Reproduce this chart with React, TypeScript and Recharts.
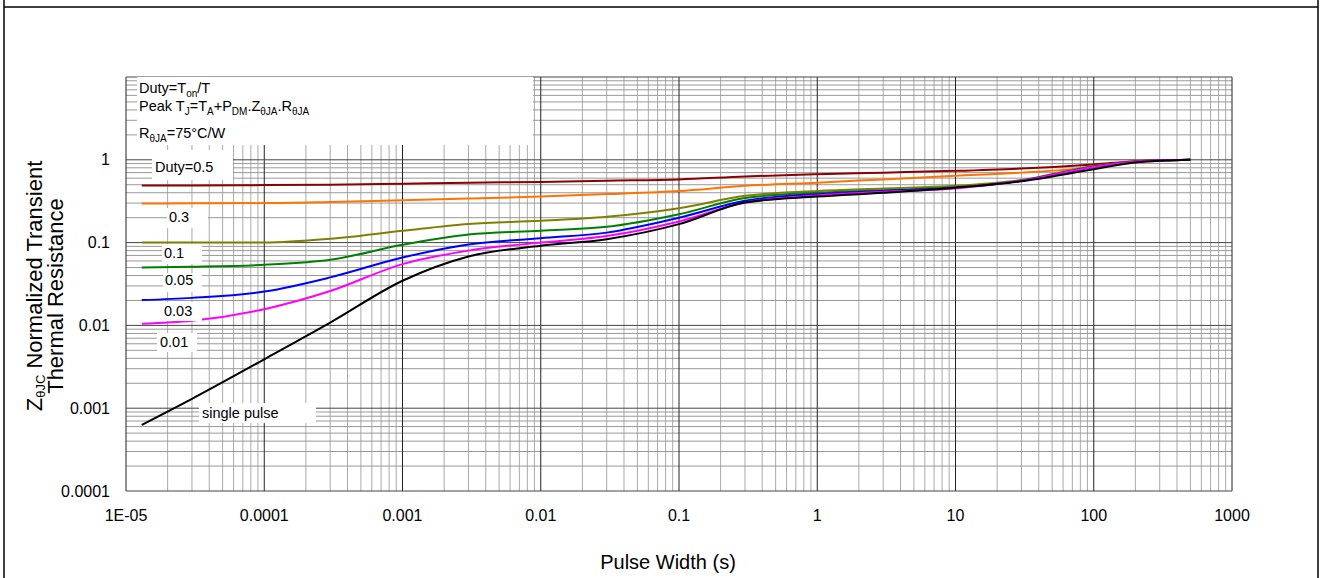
import React from "react";
import { LineChart, Line, XAxis, YAxis, ReferenceLine } from "recharts";

// pulse width (s) sample points shared by all curves
const pulseWidth = [1.3e-5, 3e-5, 1e-4, 3e-4, 1e-3, 3e-3, 1e-2, 3e-2, 0.1, 0.3, 1, 3, 10, 30, 100, 200, 500];

const duty05 = [0.49, 0.49, 0.495, 0.5, 0.515, 0.53, 0.54, 0.56, 0.58, 0.63, 0.67, 0.7, 0.735, 0.785, 0.88, 0.96, 1.0];
const duty03 = [0.297, 0.298, 0.3, 0.31, 0.325, 0.34, 0.36, 0.385, 0.42, 0.485, 0.53, 0.58, 0.64, 0.7, 0.81, 0.93, 1.0];
const duty01 = [0.1, 0.1, 0.1, 0.111, 0.139, 0.168, 0.183, 0.205, 0.26, 0.367, 0.42, 0.45, 0.485, 0.57, 0.84, 0.95, 1.0];
const duty005 = [0.05, 0.051, 0.054, 0.062, 0.094, 0.125, 0.139, 0.155, 0.22, 0.345, 0.4, 0.43, 0.465, 0.56, 0.83, 0.95, 1.0];
const duty003 = [0.0202, 0.0215, 0.0256, 0.038, 0.066, 0.095, 0.113, 0.132, 0.2, 0.32, 0.385, 0.42, 0.46, 0.56, 0.82, 0.95, 1.0];
const duty001 = [0.0105, 0.0114, 0.0157, 0.026, 0.055, 0.08, 0.1, 0.12, 0.18, 0.305, 0.37, 0.41, 0.45, 0.56, 0.82, 0.95, 1.0];
const singlePulse = [0.00063, 0.0013, 0.0039, 0.0108, 0.0346, 0.068, 0.0917, 0.11, 0.167, 0.305, 0.36, 0.4, 0.46, 0.55, 0.77, 0.93, 1.0];

const xTicks = [1e-5, 1e-4, 1e-3, 0.01, 0.1, 1, 10, 100, 1000];
const xTickLabels = ["1E-05", "0.0001", "0.001", "0.01", "0.1", "1", "10", "100", "1000"];
const yTicks = [1e-4, 1e-3, 0.01, 0.1, 1];
const yTickLabels = ["0.0001", "0.001", "0.01", "0.1", "1"];

const FONT = "'Liberation Sans', Arial, sans-serif";

const series = [
  { name: "Duty=0.5", values: duty05, color: "#8b0000" },
  { name: "0.3", values: duty03, color: "#ff7400" },
  { name: "0.1", values: duty01, color: "#808000" },
  { name: "0.05", values: duty005, color: "#008000" },
  { name: "0.03", values: duty003, color: "#0000ff" },
  { name: "0.01", values: duty001, color: "#ff00ff" },
  { name: "single pulse", values: singlePulse, color: "#000000" },
];

const toPoints = (vals: number[]) => pulseWidth.map((x, i) => ({ x, y: vals[i] }));

// log grid positions
const decadeLines = (from: number, to: number) => {
  const major: number[] = [];
  const minor: number[] = [];
  for (let d = from; d < to; d++) {
    const base = Math.pow(10, d);
    major.push(base);
    for (let m = 2; m <= 9; m++) minor.push(m * base);
  }
  major.push(Math.pow(10, to));
  return { major, minor };
};
const xGrid = decadeLines(-5, 3);
const yGrid = decadeLines(-4, 1);

const findLabel = (ticks: number[], labels: string[], v: number) =>
  labels[ticks.findIndex((t) => Math.abs(t - v) / t < 1e-6)] ?? "";

export default function App() {
  return (
    <div style={{ position: "absolute", left: 0, top: 0, width: 1324, height: 578, background: "#fff", fontFamily: FONT }}>
      <LineChart width={1324} height={578} margin={{ top: 77, right: 92, bottom: 57, left: 66 }}>
        <XAxis
          type="number"
          dataKey="x"
          scale="log"
          domain={[1e-5, 1000]}
          allowDataOverflow
          ticks={xTicks}
          interval={0}
          tickFormatter={(v: number) => findLabel(xTicks, xTickLabels, v)}
          axisLine={false}
          tickLine={false}
          tickSize={0}
          tickMargin={19}
          height={30}
          tick={{ fontSize: 16, fill: "#000", fontFamily: FONT }}
        />
        <YAxis
          type="number"
          dataKey="y"
          scale="log"
          domain={[1e-4, 10]}
          allowDataOverflow
          ticks={yTicks}
          interval={0}
          tickFormatter={(v: number) => findLabel(yTicks, yTickLabels, v)}
          axisLine={false}
          tickLine={false}
          tickSize={0}
          tickMargin={16}
          width={60}
          tick={{ fontSize: 16, fill: "#000", fontFamily: FONT }}
        />
        {xGrid.minor.map((v) => (
          <ReferenceLine key={"xm" + v} x={v} stroke="#aaaaaa" strokeWidth={1} />
        ))}
        {yGrid.minor.map((v) => (
          <ReferenceLine key={"ym" + v} y={v} stroke="#999999" strokeWidth={1} />
        ))}
        {xGrid.major.map((v) => (
          <ReferenceLine key={"xM" + v} x={v} stroke="#222222" strokeWidth={1} />
        ))}
        {yGrid.major.map((v) => (
          <ReferenceLine key={"yM" + v} y={v} stroke="#444444" strokeWidth={1} />
        ))}
        {series.map((s) => (
          <Line
            key={s.name}
            data={toPoints(s.values)}
            dataKey="y"
            name={s.name}
            type="monotone"
            stroke={s.color}
            strokeWidth={2}
            dot={false}
            isAnimationActive={false}
          />
        ))}
      </LineChart>
      <svg width={1324} height={578} style={{ position: "absolute", left: 0, top: 0, pointerEvents: "none" }} fontFamily={FONT}>
        {/* outer frame */}
        <line x1={4} y1={0} x2={4} y2={578} stroke="#000" strokeWidth={1.5} />
        <line x1={1318} y1={0} x2={1318} y2={578} stroke="#000" strokeWidth={1.5} />
        <line x1={4} y1={7} x2={1318} y2={7} stroke="#000" strokeWidth={1.5} />

        {/* note box */}
        <rect x={137} y={77} width={396} height={68} fill="#fff" />
        <text x={139} y={93} fontSize={14.5} fill="#000">
          Duty=T<tspan dy={4} fontSize={10}>on</tspan>
          <tspan dy={-4}>/T</tspan>
        </text>
        <text x={139} y={111} fontSize={14.5} fill="#000">
          Peak T<tspan dy={4} fontSize={10}>J</tspan>
          <tspan dy={-4}>=T</tspan>
          <tspan dy={4} fontSize={10}>A</tspan>
          <tspan dy={-4}>+P</tspan>
          <tspan dy={4} fontSize={10}>DM</tspan>
          <tspan dy={-4}>.Z</tspan>
          <tspan dy={4} fontSize={10}>θJA</tspan>
          <tspan dy={-4}>.R</tspan>
          <tspan dy={4} fontSize={10}>θJA</tspan>
        </text>
        <text x={139} y={138} fontSize={14.5} fill="#000">
          R<tspan dy={4} fontSize={10}>θJA</tspan>
          <tspan dy={-4}>=75°C/W</tspan>
        </text>

        {/* curve labels */}
        <rect x={152} y={150} width={81} height={30} fill="#fff" />
        <text x={155} y={172} fontSize={14.5} fill="#000">Duty=0.5</text>
        <rect x={167} y={208} width={41} height={20} fill="#fff" />
        <text x={169} y={222} fontSize={14.5} fill="#000">0.3</text>
        <rect x={162} y={244} width={40} height={20} fill="#fff" />
        <text x={164} y={258} fontSize={14.5} fill="#000">0.1</text>
        <rect x={163} y={273} width={39} height={19} fill="#fff" />
        <text x={165} y={285} fontSize={14.5} fill="#000">0.05</text>
        <rect x={160} y={302} width={42} height={19} fill="#fff" />
        <text x={164} y={316} fontSize={14.5} fill="#000">0.03</text>
        <rect x={157} y={333} width={40} height={19} fill="#fff" />
        <text x={160} y={347} fontSize={14.5} fill="#000">0.01</text>
        <rect x={199} y={403} width={117} height={20} fill="#fff" />
        <text x={202} y={418} fontSize={14.5} fill="#000">single pulse</text>

        {/* axis titles */}
        <text transform="translate(42,286) rotate(-90)" textAnchor="middle" fontSize={22} fill="#000">
          Z<tspan dy={3} fontSize={13}>θJC</tspan>
          <tspan dy={-3}> Normalized Transient</tspan>
        </text>
        <text transform="translate(63,296) rotate(-90)" textAnchor="middle" fontSize={22} fill="#000">
          Thermal Resistance
        </text>
        <text x={668} y={569} textAnchor="middle" fontSize={20} fill="#000">
          Pulse Width (s)
        </text>
      </svg>
    </div>
  );
}
